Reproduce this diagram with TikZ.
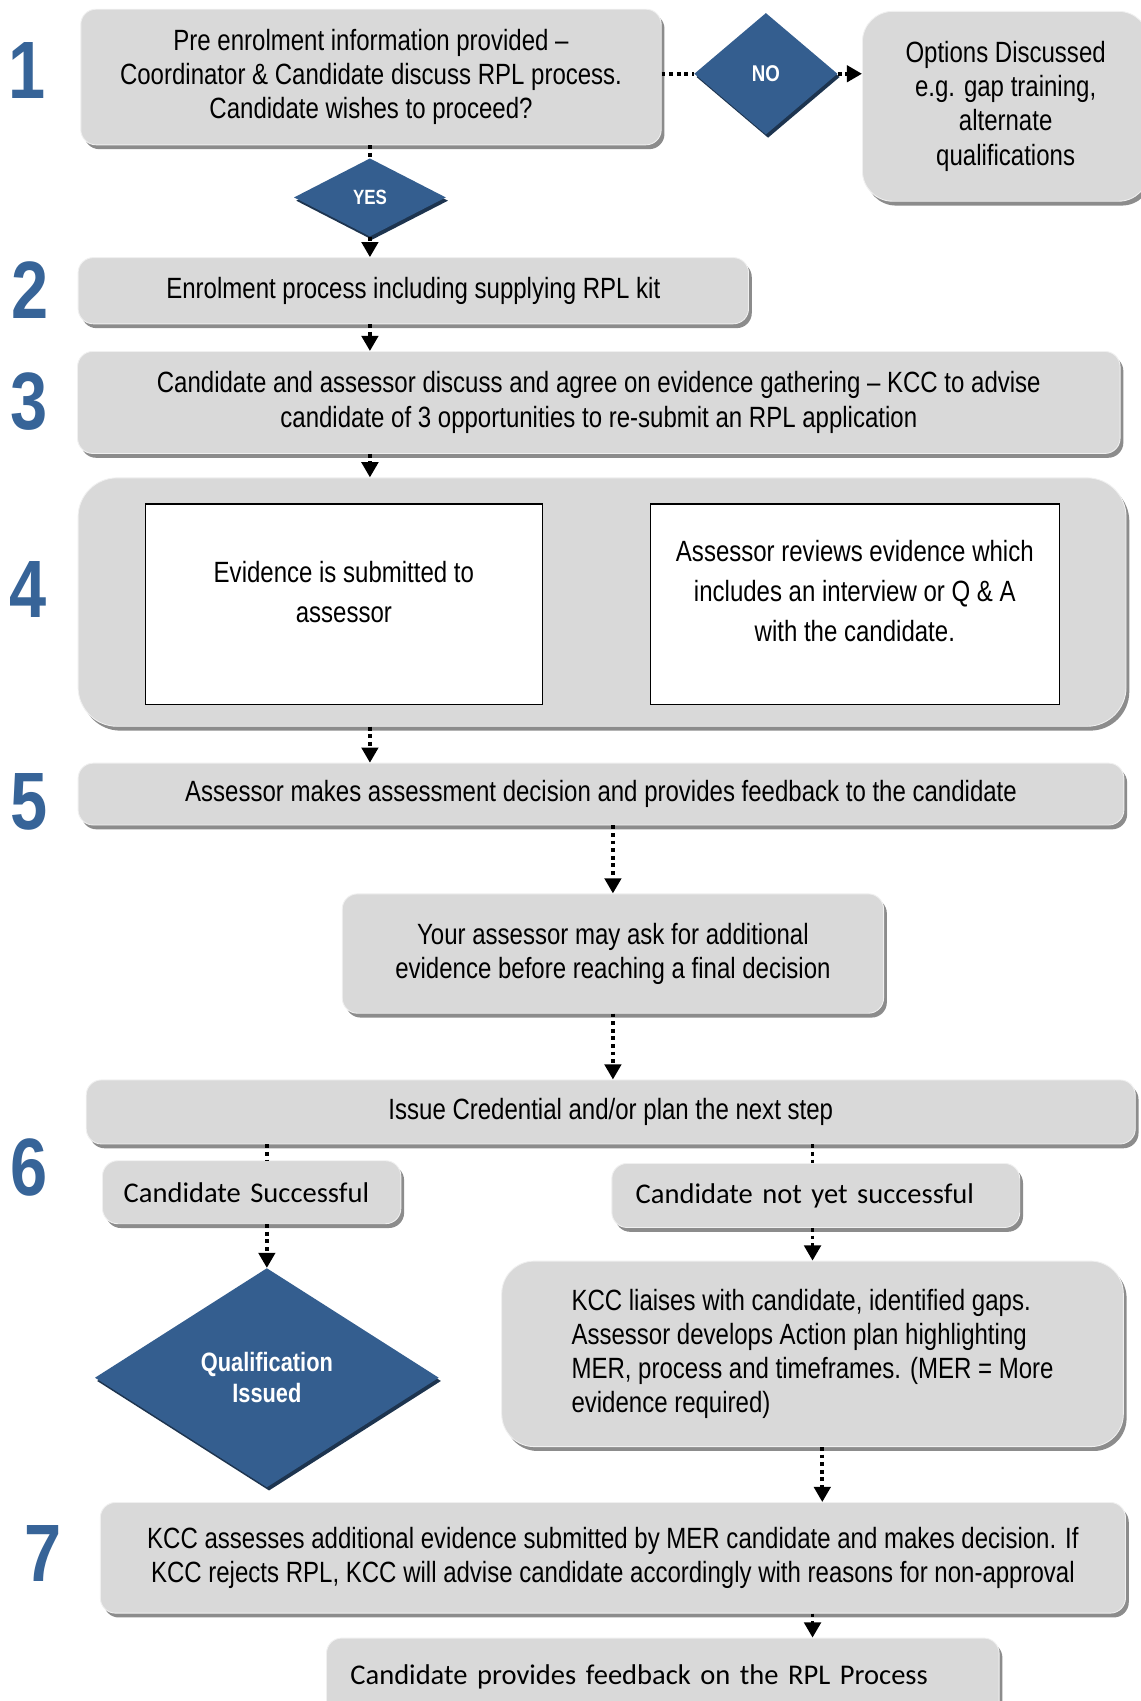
\documentclass[tikz,border=0pt]{standalone}
\usepackage{fontspec}
\setmainfont{Liberation Sans}[FakeStretch=0.82]
\newfontfamily\calib{Carlito}
\usetikzlibrary{shapes.geometric}
\usetikzlibrary{arrows.meta}
\usetikzlibrary{shadows}
\definecolor{boxgray}{RGB}{217,217,217}
\definecolor{shadegray}{RGB}{140,140,140}
\definecolor{stepblue}{RGB}{52,94,143}
\definecolor{numblue}{RGB}{55,100,152}

\begin{document}
\begin{tikzpicture}[x=1pt, y=-1pt,
  box/.style={draw=black!6, line width=0.8pt, fill=boxgray, rounded corners=14pt, align=center, inner sep=0pt,
    font=\fontsize{27}{31.5}\selectfont,
    drop shadow={shadow xshift=3pt, shadow yshift=-4pt, fill=shadegray, opacity=1}},
  calbox/.style={box, align=left, inner xsep=22pt, inner ysep=0pt, font=\calib\fontsize{26.3}{32}\selectfont},
  inbox/.style={draw=black, line width=1.5pt, fill=white, inner sep=0pt},
  intext/.style={align=center, inner sep=0pt, font=\fontsize{27}{37}\selectfont},
  decision/.style={shape=diamond, fill=stepblue, inner sep=0pt, text=white, align=center,
    drop shadow={shadow xshift=2pt, shadow yshift=-3pt, fill=stepblue!55!black, opacity=1}},
  num/.style={inner sep=0pt, text=numblue, font=\fontsize{75}{75}\bfseries},
  flow/.style={line width=3.5pt, dash pattern=on 3.5pt off 3.5pt, -{Triangle[length=14pt,width=15pt]}},
  joint/.style={line width=3.5pt, dash pattern=on 3.5pt off 3.5pt}]
\path[use as bounding box, fill=white] (0,0) rectangle (1051,1568);
\node[num] (n1) at (25,65) {1};
\node[num] (n2) at (28,267) {2};
\node[num] (n3) at (27,370) {3};
\node[num] (n4) at (26,543) {4};
\node[num] (n5) at (27,739) {5};
\node[num] (n6) at (27,1076) {6};
\node[num] (n7) at (40,1432) {7};
\node[box, minimum width=535pt, minimum height=125pt] (pre) at (342,71) {Pre enrolment information provided --\\Coordinator \& Candidate discuss RPL process.\\Candidate wishes to proceed?};
\node[decision, minimum width=132pt, minimum height=112pt, font=\fontsize{21}{21}\bfseries] (no) at (706,68) {NO};
\node[box, rounded corners=28pt, minimum width=264pt, minimum height=175pt] (opt) at (927,98) {Options Discussed\\e.g. gap training,\\alternate\\qualifications};
\node[decision, minimum width=140pt, minimum height=72pt, font=\fontsize{19}{19}\bfseries] (yes) at (341,182) {YES};
\node[box, minimum width=618pt, minimum height=61pt] (enrol) at (381,268) {Enrolment process including supplying RPL kit};
\node[box, minimum width=961pt, minimum height=94pt] (agree) at (552,371) {Candidate and assessor discuss and agree on evidence gathering -- KCC to advise\\candidate of 3 opportunities to re-submit an RPL application};
\node[box, rounded corners=36pt, minimum width=966pt, minimum height=229pt] (evid) at (555,555) {};
\node[inbox, minimum width=366pt, minimum height=185pt] (sub) at (317,557) {};
\node[inbox, minimum width=377pt, minimum height=185pt] (rev) at (788,557) {};
\node[intext] (subtxt) at (317,546) {Evidence is submitted to\\assessor};
\node[intext] (revtxt) at (788,545) {Assessor reviews evidence which\\includes an interview or Q \& A\\with the candidate.};
\node[box, minimum width=964pt, minimum height=57pt] (decide) at (554,732) {Assessor makes assessment decision and provides feedback to the candidate};
\node[box, minimum width=499pt, minimum height=110pt] (more) at (565,879) {Your assessor may ask for additional\\evidence before reaching a final decision};
\node[box, minimum width=967pt, minimum height=59pt] (issue) at (563,1025) {Issue Credential and/or plan the next step};
\node[calbox, text width=236pt, inner xsep=19.5pt, minimum height=58pt] (succ) at (232,1099) {Candidate Successful};
\node[calbox, text width=332pt, minimum height=59pt] (notyet) at (752,1102) {Candidate not yet successful};
\node[decision, minimum width=317pt, minimum height=202pt, font=\fontsize{24.5}{29}\bfseries] (qual) at (246,1270) {Qualification\\Issued};
\node[box, rounded corners=30pt, minimum width=573pt, minimum height=171pt, align=left] (gaps) at (749,1248) {KCC liaises with candidate, identified gaps.\\Assessor develops Action plan highlighting\\MER, process and timeframes. (MER = More\\evidence required)};
\node[box, minimum width=945pt, minimum height=102pt] (mer) at (565,1436) {KCC assesses additional evidence submitted by MER candidate and makes decision. If\\KCC rejects RPL, KCC will advise candidate accordingly with reasons for non-approval};
\node[calbox, text width=576pt, minimum height=72pt] (feed) at (611,1546) {Candidate provides feedback on the RPL Process};
\coordinate (gapsout) at ([xshift=9pt]gaps.south);
\draw[joint] (pre.south -| yes.north) -- (yes.north);
\draw[flow] (yes.south) -- (enrol.north -| yes.south);
\draw[joint] (pre.east |- no.west) -- (no.west);
\draw[flow] (no.east) -- (opt.west |- no.east);
\draw[flow] (enrol.south -| yes) -- (agree.north -| yes);
\draw[flow] (agree.south -| yes) -- (evid.north -| yes);
\draw[flow] (evid.south -| yes) -- (decide.north -| yes);
\draw[flow] (decide.south -| more) -- (more.north);
\draw[flow] (more.south) -- (issue.north -| more.south);
\draw[joint] (issue.south -| qual) -- (succ.north -| qual);
\draw[flow] (succ.south -| qual) -- (qual.north);
\draw[joint] (issue.south -| gaps) -- (notyet.north -| gaps);
\draw[flow] (notyet.south -| gaps) -- (gaps.north);
\draw[flow] (gapsout) -- (mer.north -| gapsout);
\draw[flow] (mer.south -| gaps) -- (feed.north -| gaps);
\end{tikzpicture}
\end{document}
